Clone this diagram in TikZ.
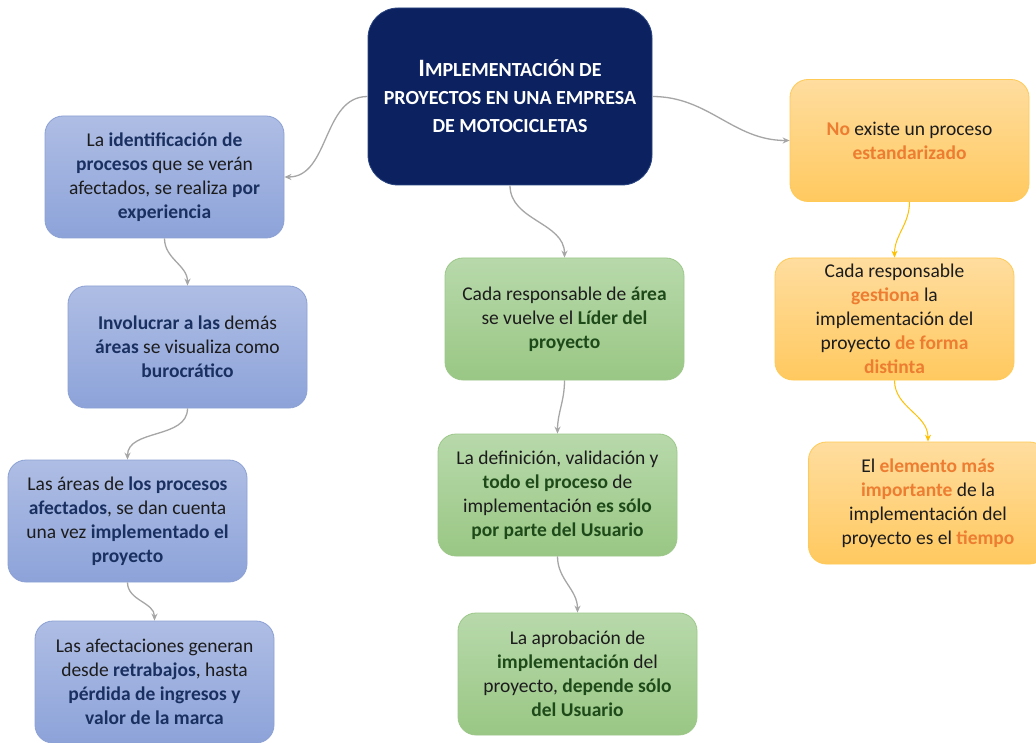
\documentclass[tikz,border=0pt]{standalone}
\usepackage{fontspec}
\setmainfont{Carlito}
\usetikzlibrary{arrows.meta}
\definecolor{txt}{HTML}{1C1C1C}
\definecolor{blueT}{HTML}{AEBDE4}
\definecolor{blueB}{HTML}{8DA3D9}
\definecolor{blueD}{HTML}{8CA1D4}
\definecolor{blueTx}{HTML}{1A3060}
\definecolor{greenT}{HTML}{B8D9AB}
\definecolor{greenB}{HTML}{99C784}
\definecolor{greenD}{HTML}{9CC889}
\definecolor{greenTx}{HTML}{1E4A1A}
\definecolor{orT}{HTML}{FFDD9F}
\definecolor{orB}{HTML}{FFC95F}
\definecolor{orD}{HTML}{FFCA55}
\definecolor{orTx}{HTML}{ED7D31}
\definecolor{navy}{HTML}{0C2260}
\definecolor{navyD}{HTML}{2A4582}
\definecolor{conngray}{HTML}{A6A6A6}
\definecolor{oconnc}{HTML}{FFC000}
\newcommand{\hb}[1]{\textbf{\color{blueTx}#1}}
\newcommand{\hg}[1]{\textbf{\color{greenTx}#1}}
\newcommand{\ho}[1]{\textbf{\color{orTx}#1}}
\begin{document}
\begin{tikzpicture}[x=1pt,y=1pt,
  box/.style={rounded corners=18pt, minimum width=239pt, minimum height=122pt,
    align=center, inner sep=0pt, text=txt, line width=0.8pt,
    font=\fontsize{19.5}{24}\selectfont},
  bluebox/.style={box, top color=blueT, bottom color=blueB, draw=blueD},
  greenbox/.style={box, top color=greenT, bottom color=greenB, draw=greenD},
  orbox/.style={box, top color=orT, bottom color=orB, draw=orD},
  central/.style={rounded corners=30pt, minimum width=284pt, minimum height=177pt,
    align=center, inner sep=0pt, fill=navy, draw=navyD, line width=0.8pt,
    text=white, font=\bfseries\fontsize{20}{28}\selectfont},
  conn/.style={draw=conngray, line width=1.3pt, -{Stealth[length=7pt,width=6pt]}},
  oconn/.style={draw=oconnc, line width=1pt, -{Stealth[length=7pt,width=6pt]}}]
\clip (0,0) rectangle (1036,-743);
\fill[white] (0,0) rectangle (1036,-743);

\node[central] (main) at (510,-96.5)
  {{\fontsize{25}{28}\selectfont I}MPLEMENTACIÓN DE\\PROYECTOS EN UNA EMPRESA\\DE MOTOCICLETAS};

\node[bluebox] (b1) at (164.5,-177)
  {La \hb{identificación de}\\\hb{procesos} que se verán\\afectados, se realiza \hb{por}\\\hb{experiencia}};
\node[bluebox] (b2) at (187.5,-347)
  {\hb{Involucrar a las} demás\\\hb{áreas} se visualiza como\\\hb{burocrático}};
\node[bluebox] (b3) at (127.5,-521)
  {Las áreas de \hb{los procesos}\\\hb{afectados}, se dan cuenta\\una vez \hb{implementado el}\\\hb{proyecto}};
\node[bluebox] (b4) at (154.5,-682)
  {Las afectaciones generan\\desde \hb{retrabajos}, hasta\\\hb{pérdida de ingresos y}\\\hb{valor de la marca}};

\node[greenbox] (g1) at (564.5,-319)
  {Cada responsable de \hg{área}\\se vuelve el \hg{Líder del}\\\hg{proyecto}};
\node[greenbox] (g2) at (557.5,-495)
  {La definición, validación y\\\hg{todo el proceso} de\\implementación \hg{es sólo}\\\hg{por parte del Usuario}};
\node[greenbox] (g3) at (577.5,-674)
  {La aprobación de\\\hg{implementación} del\\proyecto, \hg{depende sólo}\\\hg{del Usuario}};

\node[orbox] (o1) at (909.5,-140.5)
  {\ho{No} existe un proceso\\\ho{estandarizado}};
\node[orbox] (o2) at (894.5,-319)
  {Cada responsable\\\ho{gestiona} la\\implementación del\\proyecto \ho{de forma}\\\ho{distinta}};
\node[orbox] (o3) at (928,-503)
  {El \ho{elemento más}\\\ho{importante} de la\\implementación del\\proyecto es el \ho{tiempo}};

\draw[conn] (main.west) to[out=180,in=0] (b1.east);
\draw[conn] (main.east) to[out=0,in=180] (o1.west);
\draw[conn] (main.south) to[out=-90,in=90] (g1.north);
\draw[conn] (b1.south) to[out=-90,in=90] (b2.north);
\draw[conn] (b2.south) to[out=-90,in=90] (b3.north);
\draw[conn] (b3.south) to[out=-90,in=90] (b4.north);
\draw[conn] (g1.south) to[out=-90,in=90] (g2.north);
\draw[conn] (g2.south) to[out=-90,in=90] (g3.north);
\draw[oconn] (o1.south) to[out=-90,in=90] (o2.north);
\draw[oconn] (o2.south) to[out=-90,in=90] (o3.north);
\end{tikzpicture}
\end{document}
